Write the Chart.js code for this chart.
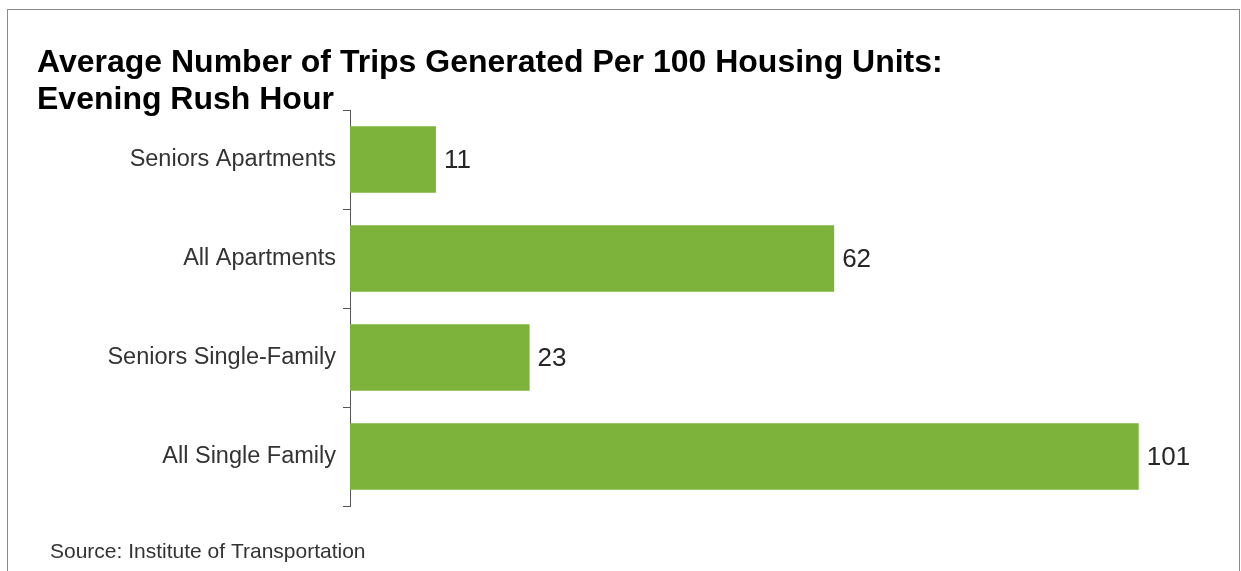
<!DOCTYPE html>
<html>
<head>
<meta charset="utf-8">
<script src="https://cdn.jsdelivr.net/npm/chart.js@4.4.1/dist/chart.umd.min.js"></script>
<style>
html,body{margin:0;padding:0;background:#fff;}
#wrap{position:relative;width:1241px;height:571px;overflow:hidden;}
#frame{position:absolute;left:7px;top:9px;width:1233px;height:600px;border:1px solid #8a8a8a;box-sizing:border-box;}
canvas{position:absolute;left:0;top:0;}
</style>
</head>
<body>
<div id="wrap">
<div id="frame"></div>
<canvas id="c" width="1241" height="571"></canvas>
</div>
<script>
const categories = ["Seniors Apartments", "All Apartments", "Seniors Single-Family", "All Single Family"];
const tripValues = [11, 62, 23, 101];
const titleLines = ["Average Number of Trips Generated Per 100 Housing Units:", "Evening Rush Hour"];
const sourceText = "Source: Institute of Transportation";

const FONT = "'Liberation Sans', Arial, sans-serif";

const textPlugin = {
  id: 'textPlugin',
  afterDraw(chart) {
    const ctx = chart.ctx;
    ctx.save();
    ctx.fillStyle = '#000';
    ctx.font = 'bold 32px ' + FONT;
    ctx.textBaseline = 'alphabetic';
    ctx.textAlign = 'left';
    ctx.fillText(titleLines[0], 37, 72);
    ctx.fillText(titleLines[1], 37, 109);
    ctx.fillStyle = '#333';
    ctx.font = '21px ' + FONT;
    ctx.fillText(sourceText, 50, 558);
    // data labels
    const meta = chart.getDatasetMeta(0);
    ctx.fillStyle = '#262626';
    ctx.font = '26px ' + FONT;
    ctx.textBaseline = 'middle';
    meta.data.forEach((bar, i) => {
      ctx.fillText(String(chart.data.datasets[0].data[i]), bar.x + 8, bar.y + 1);
    });
    ctx.restore();
  }
};

new Chart(document.getElementById('c'), {
  type: 'bar',
  data: {
    labels: categories,
    datasets: [{
      data: tripValues,
      backgroundColor: '#7db33a',
      borderWidth: 0,
      categoryPercentage: 1.0,
      barPercentage: 0.67
    }]
  },
  options: {
    indexAxis: 'y',
    responsive: false,
    animation: false,
    layout: { padding: { top: 110, bottom: 65, left: 0, right: 32 } },
    plugins: { legend: { display: false }, tooltip: { enabled: false }, title: { display: false } },
    scales: {
      x: { display: false, min: 0, max: 110 },
      y: {
        afterFit(scale) { scale.width = 350; },
        border: { display: true, color: '#555', width: 1 },
        grid: { display: true, drawOnChartArea: false, drawTicks: true, tickLength: 7, color: '#555', offset: true },
        ticks: { color: '#333', font: { family: FONT, size: 23.5 }, padding: 7 }
      }
    }
  },
  plugins: [textPlugin]
});
</script>
</body>
</html>
